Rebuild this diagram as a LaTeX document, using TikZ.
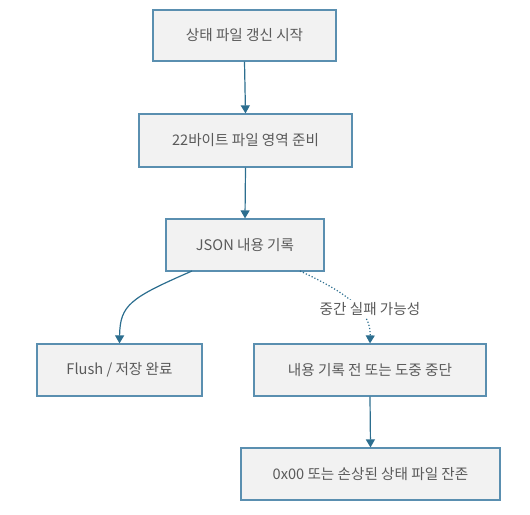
\documentclass[tikz,border=0pt]{standalone}
\usepackage{fontspec}
\setmainfont{Noto Sans CJK KR}
\usetikzlibrary{arrows.meta}
\definecolor{boxfill}{HTML}{F2F2F2}
\definecolor{boxline}{HTML}{5A8FB0}
\definecolor{arrowc}{HTML}{2C6E8F}
\definecolor{txt}{HTML}{5A5A5A}
\begin{document}
\begin{tikzpicture}[x=1pt,y=-1pt,
  stepbox/.style={draw=boxline,fill=boxfill,line width=1.2pt,rectangle,
    minimum height=52pt,inner sep=0pt,text=txt,font=\fontsize{14.6}{17}\selectfont},
  conn/.style={draw=arrowc,line width=1.2pt,-{Triangle[width=9pt,length=8pt]}},
  dconn/.style={conn,dash pattern=on 1.2pt off 2pt},
  lbl/.style={fill=white,text=txt,inner sep=2pt,font=\fontsize{14.6}{17}\selectfont}]
\useasboundingbox (0,0) rectangle (530,514);
\node[stepbox,minimum width=183pt,minimum height=51pt] (b1) at (244.5,35.5) {상태 파일 갱신 시작};
\node[stepbox,minimum width=213pt,minimum height=53pt] (b2) at (245.5,140.5) {22바이트 파일 영역 준비};
\node[stepbox,minimum width=158pt] (b3) at (245,245) {JSON 내용 기록};
\node[stepbox,minimum width=165pt] (b4) at (119.5,370) {Flush / 저장 완료};
\node[stepbox,minimum width=232pt] (b5) at (370,370) {내용 기록 전 또는 도중 중단};
\node[stepbox,minimum width=259pt] (b6) at (370.5,474) {0x00 또는 손상된 상태 파일 잔존};
\coordinate (s1) at (192,271);
\coordinate (s2) at (300,271);
\draw[conn] (b1.south) -- (b2.north);
\draw[conn] (b2.south) -- (b3.north);
\draw[conn] (s1) .. controls (130,298) and (120,305) .. (b4.north);
\draw[dconn] (s2) .. controls (345,292) and (371,310) .. (b5.north);
\node[lbl] (l1) at (370,309) {중간 실패 가능성};
\draw[conn] (b5.south) -- (b6.north);
\end{tikzpicture}
\end{document}
